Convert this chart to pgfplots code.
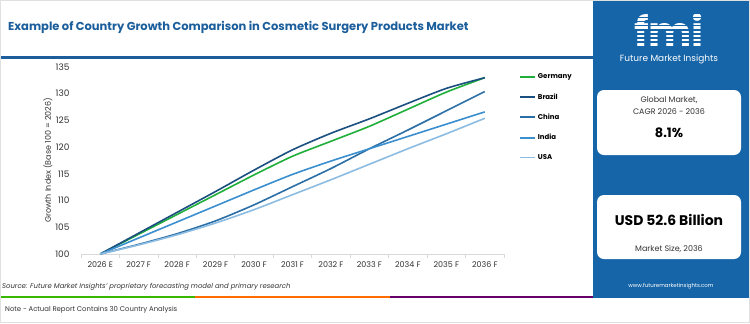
\documentclass[border=0pt]{standalone}
\usepackage{fontspec}
\setmainfont{Poppins}
\usepackage{pgfplots}
\pgfplotsset{compat=1.18}
\definecolor{titleblue}{HTML}{1B5E9B}
\definecolor{panelblue}{HTML}{1665A8}
\definecolor{cGer}{HTML}{1FAF3A}
\definecolor{cBra}{HTML}{1B4F7F}
\definecolor{cChi}{HTML}{2B6FA6}
\definecolor{cInd}{HTML}{3B8FCF}
\definecolor{cUSA}{HTML}{8CBCE2}
\definecolor{txt}{HTML}{333333}
\begin{document}
\begin{tikzpicture}[x=1bp,y=1bp]
\fill[white] (0,0) rectangle (750,323);
% title
\node[anchor=base west, font=\fontsize{11.55}{13}\selectfont\bfseries, text=titleblue, inner sep=0] at (8,293) {Example of Country Growth Comparison in Cosmetic Surgery Products Market};
\fill[titleblue] (0,264.5) rectangle (593,267.5);
% right panel
\fill[panelblue] (593,25) rectangle (750,323);
\node[font=\fontsize{41}{41}\selectfont\bfseries, text=white, inner sep=0, anchor=base] at (669,277) {fmi};
\foreach \yy in {280.5,284.5,288.5,292.5,296.5,300.5,304.5,308.5,312.5} {\fill[panelblue] (605,\yy) rectangle (735,\yy+1.2);}
\node[font=\fontsize{9}{9}\selectfont, text=white, inner sep=0] at (669,263.5) {Future Market Insights};
\fill[white, rounded corners=7] (597,168) rectangle (741,233);
\node[font=\fontsize{8}{8}\selectfont, text=txt, inner sep=0] at (669,223) {Global Market,};
\node[font=\fontsize{8}{8}\selectfont, text=txt, inner sep=0] at (669,211) {CAGR 2026 - 2036};
\node[font=\fontsize{13}{13}\selectfont\bfseries, text=black, inner sep=0] at (669,190) {8.1\%};
\fill[white, rounded corners=7] (597,64) rectangle (741,128);
\node[font=\fontsize{14}{14}\selectfont\bfseries, text=black, inner sep=0] at (669,103) {USD 52.6 Billion};
\node[font=\fontsize{8}{8}\selectfont, text=txt, inner sep=0] at (669,74) {Market Size, 2036};
\node[font=\fontsize{5.5}{6}\selectfont, text=white, inner sep=0] at (671,37) {www.futuremarketinsights.com};
% bottom
\node[anchor=base west, font=\fontsize{6.9}{8}\selectfont\itshape, text=txt, inner sep=0] at (2,35) {Source: Future Market Insights' proprietary forecasting model and primary research};
\fill[green!60!black!70!lime] (0,25) rectangle (195,27.5);
\fill[orange!85!red] (195,25) rectangle (390,27.5);
\fill[violet!80!black] (390,25) rectangle (593,27.5);
\node[anchor=base west, font=\fontsize{6.9}{8}\selectfont, text=txt, inner sep=0] at (5,11.5) {Note - Actual Report Contains 30 Country Analysis};
\draw[black!12, line width=0.8bp] (0.4,0.4) rectangle (749.6,322.6);
% chart
\begin{axis}[at={(81bp,69bp)}, anchor=south west, scale only axis,
  width=423bp, height=187bp,
  xmin=-0.5, xmax=10.5, ymin=100, ymax=135,
  axis x line*=bottom, axis y line*=left,
  y axis line style={draw=none},
  x axis line style={draw=black!15, line width=0.8bp},
  xtick={0,...,10},
  xticklabels={2026 E,2027 F,2028 F,2029 F,2030 F,2031 F,2032 F,2033 F,2034 F,2035 F,2036 F},
  minor xtick={-0.5,0.5,...,10.5},
  xtick align=outside,
  major tick length=0pt, minor tick length=4bp,
  minor tick style={draw=black!15, line width=0.8bp},
  ytick={100,105,...,135},
  ytick style={draw=none},
  /pgf/number format/assume math mode=true,
  ticklabel style={font=\fontsize{8}{8}\selectfont, text=txt},
  xticklabel style={yshift=-4.5bp},
  yticklabel style={font=\fontsize{9}{9}\selectfont, text=txt, xshift=-8bp},
  ylabel={Growth Index (Base 100 = 2026)},
  ylabel style={font=\fontsize{8}{8}\selectfont, text=txt, at={(axis description cs:-0.078,0.5)}, anchor=center},
  legend style={at={(1.035,0.975)}, anchor=north west, draw=none, fill=none,
    font=\fontsize{7}{7}\selectfont\bfseries, row sep=9.2bp, inner sep=0pt},
  legend cell align=left,
  legend image code/.code={\draw[#1, line width=1.9bp] (0,0) -- (15bp,0);},
  every axis plot/.append style={line width=1.6bp, smooth, tension=0.4},
]
\addplot[cGer] coordinates {(0,100) (1,103.7) (2,107.4) (3,111.1) (4,114.8) (5,118.3) (6,121.1) (7,123.9) (8,127.1) (9,130.3) (10,133.0)};
\addlegendentry{Germany}
\addplot[cBra] coordinates {(0,100) (1,103.9) (2,107.8) (3,111.7) (4,115.7) (5,119.5) (6,122.6) (7,125.3) (8,128.2) (9,131.0) (10,133.0)};
\addlegendentry{Brazil}
\addplot[cChi] coordinates {(0,100) (1,101.8) (2,103.8) (3,106.2) (4,109.2) (5,112.6) (6,116.0) (7,119.7) (8,123.2) (9,126.8) (10,130.4)};
\addlegendentry{China}
\addplot[cInd] coordinates {(0,100) (1,103.0) (2,106.0) (3,109.0) (4,112.0) (5,114.9) (6,117.4) (7,119.7) (8,122.0) (9,124.3) (10,126.6)};
\addlegendentry{India}
\addplot[cUSA] coordinates {(0,100) (1,101.7) (2,103.6) (3,105.8) (4,108.3) (5,111.1) (6,113.9) (7,116.8) (8,119.7) (9,122.5) (10,125.4)};
\addlegendentry{USA}
\end{axis}
\end{tikzpicture}
\end{document}
